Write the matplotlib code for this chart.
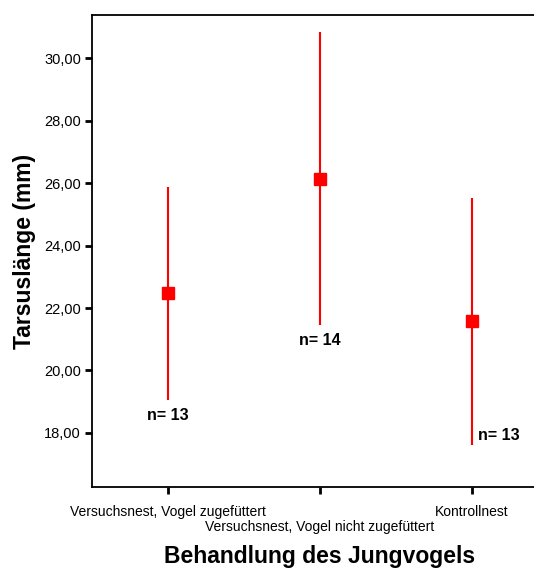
import matplotlib
matplotlib.use('Agg')
import matplotlib.pyplot as plt
import matplotlib.transforms as mtransforms
from matplotlib.ticker import FuncFormatter

plt.rcParams['font.family'] = ['Liberation Sans', 'DejaVu Sans']

# data
groups = ['Versuchsnest, Vogel zugefüttert',
          'Versuchsnest, Vogel nicht zugefüttert',
          'Kontrollnest']
means = [22.48, 26.13, 21.58]
upper = [25.87, 30.83, 25.52]
lower = [19.06, 21.46, 17.62]
n_labels = ['n= 13', 'n= 14', 'n= 13']

xpos = [1, 2, 3]

fig = plt.figure(figsize=(5.34, 5.72), dpi=100)
# axes run past the right edge, as in the original export
ax = fig.add_axes([92 / 534, 1 - 487 / 572, 456 / 534, 472 / 572])

for x, m, lo, hi in zip(xpos, means, lower, upper):
    ax.plot([x, x], [lo, hi], color='#ff0000', lw=1.5, solid_capstyle='butt', zorder=2)
    ax.plot(x, m, marker='s', ms=8, color='#ff0000', mec='#ff0000', zorder=3)

# n-labels under the whiskers (last one next to it)
for i, (x, lo, txt) in enumerate(zip(xpos, lower, n_labels)):
    if i == len(xpos) - 1:
        ax.annotate(txt, (x, lo), xytext=(4, 1), textcoords='offset points',
                    ha='left', va='bottom', fontsize=11.5, fontweight='bold')
    else:
        ax.annotate(txt, (x, lo), xytext=(0, -6), textcoords='offset points',
                    ha='center', va='top', fontsize=11.5, fontweight='bold')

ax.set_xlim(0.5, 3.5)
ax.set_ylim(16.27, 31.38)
ax.set_yticks([18, 20, 22, 24, 26, 28, 30])
ax.yaxis.set_major_formatter(FuncFormatter(lambda v, p: f'{v:.2f}'.replace('.', ',')))
ax.set_xticks(xpos)
ax.set_xticklabels(groups, fontsize=10)
ax.tick_params(axis='y', labelsize=10.5, length=5, width=2, direction='out', pad=3)
ax.tick_params(axis='x', length=5, width=2, direction='out', pad=8)

# stagger the middle category label one row lower
shift = mtransforms.ScaledTranslation(0, -15 / 100, fig.dpi_scale_trans)
mid = ax.get_xticklabels()[1]
mid.set_transform(mid.get_transform() + shift)

for side in ['left', 'top', 'bottom']:
    ax.spines[side].set_linewidth(1.3)
ax.spines['right'].set_visible(False)

ax.set_ylabel('Tarsuslänge (mm)', fontsize=16.5, fontweight='bold', labelpad=6)
ax.set_xlabel('Behandlung des Jungvogels', fontsize=16.5, fontweight='bold', labelpad=8)

plt.savefig('out.png', dpi=100)
plt.close()
